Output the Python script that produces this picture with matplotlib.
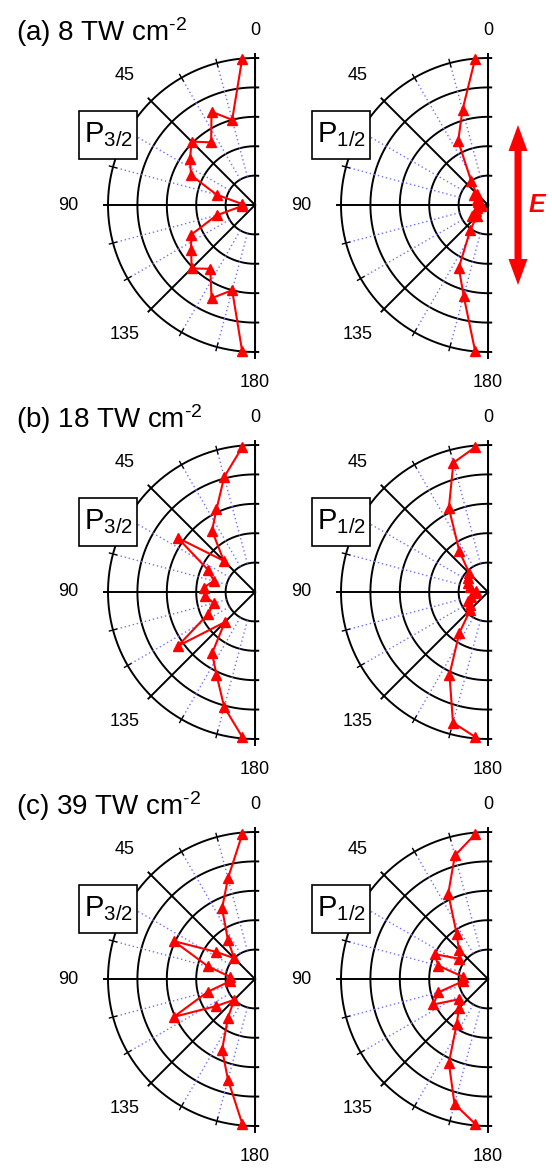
import numpy as np
import matplotlib
matplotlib.use('Agg')
import matplotlib.pyplot as plt
from matplotlib.patches import FancyArrow, Rectangle
from matplotlib.transforms import IdentityTransform

plt.rcParams['font.family'] = ['Liberation Sans', 'DejaVu Sans']
plt.rcParams['mathtext.fontset'] = 'custom'
plt.rcParams['mathtext.rm'] = 'Liberation Sans'
plt.rcParams['mathtext.it'] = 'Liberation Sans:italic'
plt.rcParams['mathtext.bf'] = 'Liberation Sans:bold'

# emission angle (deg) of each point
angles = [5, 15, 25, 35, 45, 55, 65, 75, 85, 95, 105, 115, 125, 135, 145, 155, 165, 175]

# normalised angular distributions
a_p32 = [1.00, 0.60, 0.70, 0.52, 0.61, 0.54, 0.48, 0.27, 0.09,
         0.09, 0.27, 0.48, 0.53, 0.61, 0.53, 0.70, 0.60, 1.00]
a_p12 = [1.00, 0.67, 0.48, 0.20, 0.11, 0.12, 0.08, 0.07, 0.05,
         0.05, 0.08, 0.09, 0.13, 0.11, 0.21, 0.47, 0.64, 1.00]
b_p32 = [0.99, 0.81, 0.62, 0.51, 0.30, 0.64, 0.35, 0.29, 0.35,
         0.34, 0.29, 0.35, 0.64, 0.29, 0.51, 0.62, 0.81, 0.99]
b_p12 = [0.99, 0.91, 0.63, 0.34, 0.18, 0.17, 0.15, 0.13, 0.08,
         0.08, 0.12, 0.15, 0.15, 0.17, 0.34, 0.62, 0.92, 0.99]
c_p32 = [0.99, 0.71, 0.53, 0.32, 0.20, 0.32, 0.61, 0.33, 0.17,
         0.17, 0.33, 0.61, 0.32, 0.20, 0.32, 0.53, 0.71, 0.99]
c_p12 = [0.99, 0.87, 0.64, 0.37, 0.28, 0.24, 0.40, 0.35, 0.17,
         0.17, 0.35, 0.41, 0.24, 0.28, 0.37, 0.63, 0.88, 0.99]

row_titles = ['(a) 8 TW cm$^{\\mathregular{\u20102}}$',
              '(b) 18 TW cm$^{\\mathregular{\u20102}}$',
              '(c) 39 TW cm$^{\\mathregular{\u20102}}$']
state_labels = ['P$_{\\mathregular{3/2}}$', 'P$_{\\mathregular{1/2}}$']
panel_data = [[a_p32, a_p12], [b_p32, b_p12], [c_p32, c_p12]]

rings = [0.2, 0.4, 0.6, 0.8, 1.0]
solid_spokes = [45, 90, 135]
dotted_spokes = [15, 30, 60, 75, 105, 120, 150, 165]
angle_labels = {0: 1.19, 45: 1.25, 90: 1.27, 135: 1.25, 180: 1.21}

W, H = 552, 1169
R = 147
col_x = [255, 488]
row_y = [205, 592, 979]

fig = plt.figure(figsize=(W / 100, H / 100), dpi=100)


def draw_half_polar(ax, values):
    ax.set_theta_zero_location('N')
    ax.set_theta_direction(1)
    ax.set_thetamin(0)
    ax.set_thetamax(180)
    ax.set_ylim(0, 1)
    ax.grid(False)
    ax.set_xticks([])
    ax.set_yticks([])
    for s in ax.spines.values():
        s.set_visible(False)
    ax.patch.set_visible(False)

    # rings, running a little past the vertical axis as ticks
    for r in rings:
        d = 0.022 / r
        th = np.linspace(-d, np.pi + d, 300)
        ax.plot(th, np.full_like(th, r), color='black', lw=1.4, clip_on=False)

    # dotted spokes + ticks on outer ring
    for a in dotted_spokes:
        t = np.radians(a)
        ax.plot([t, t], [0.2, 1.0], color='#7070ff', lw=1.0, ls=(0, (1, 2)), clip_on=False)
        ax.plot([t, t], [0.975, 1.025], color='black', lw=1.0, clip_on=False)

    for a in solid_spokes:
        t = np.radians(a)
        ax.plot([t, t], [0, 1.025], color='black', lw=1.4, clip_on=False)

    # vertical axis
    ax.plot([0, 0], [0, 1.03], color='black', lw=1.4, clip_on=False)
    ax.plot([np.pi, np.pi], [0, 1.04], color='black', lw=1.4, clip_on=False)

    for a, r in angle_labels.items():
        ax.text(np.radians(a), r, str(a), ha='center', va='center',
                fontsize=13, clip_on=False)

    ax.plot(np.radians(angles), values, color='red', lw=1.5, marker='^',
            ms=6.5, mec='red', mfc='red', clip_on=False, zorder=4)


for i in range(3):
    for j in range(2):
        cx, cy = col_x[j], row_y[i]
        # the half wedge fills half of the box, centred in it
        rect = [(cx - 1.5 * R) / W, 1 - (cy + 2 * R) / H, 2 * R / W, 4 * R / H]
        ax = fig.add_axes(rect, projection='polar')
        draw_half_polar(ax, panel_data[i][j])

        # framed state label, covering the outer ring
        bx0, by0 = cx - 176, cy - 94
        fig.patches.append(Rectangle((bx0, H - by0 - 48), 58, 48, fc='white',
                                     ec='black', lw=1.2,
                                     transform=IdentityTransform(), figure=fig))
        fig.text((bx0 + 5) / W, 1 - (by0 + 31) / H, state_labels[j],
                 fontsize=21, ha='left', va='baseline')

    fig.text(16 / W, 1 - (41 + 387 * i) / H, row_titles[i], fontsize=20,
             ha='left', va='baseline')

# polarisation arrow (pixel coordinates)
ax_x, y_top, y_bot = 518, 125, 285
y_mid = (y_top + y_bot) / 2
for y_end in (y_top, y_bot):
    length = (H - y_end) - (H - y_mid)
    fig.patches.append(FancyArrow(ax_x, H - y_mid, 0, length, width=7,
                                  head_width=19, head_length=26,
                                  length_includes_head=True, color='red',
                                  lw=0, transform=IdentityTransform(),
                                  figure=fig))
fig.text(537 / W, 1 - 205 / H, 'E', color='red', fontsize=18,
         fontweight='bold', fontstyle='italic', ha='center', va='center')

fig.savefig('out.png', dpi=100)
